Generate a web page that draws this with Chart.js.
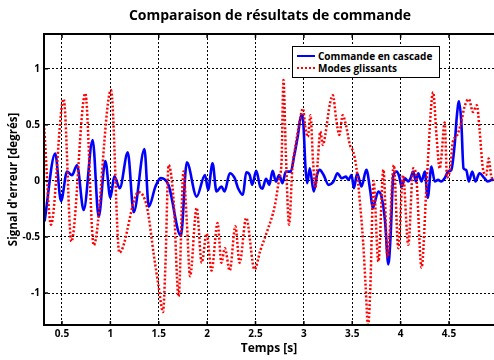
<!DOCTYPE html>
<html>
<head>
<meta charset="utf-8">
<script src="https://cdn.jsdelivr.net/npm/chart.js@4.4.0/dist/chart.umd.min.js"></script>
<style>
  body { margin: 0; background: #fff; }
  #wrap { position: relative; width: 494px; height: 360px; overflow: hidden; font-family: "Open Sans", sans-serif; color: #000; }
  #title { position: absolute; left: 44px; width: 452px; top: 5px; text-align: center; font-weight: bold; font-size: 14px; }
  #legend { position: absolute; left: 292px; top: 46px; width: 146px; height: 30px; border: 1.5px solid #000; background: #fff; font-size: 10px; font-weight: bold; }
  .row { position: absolute; left: 0; height: 12px; line-height: 12px; white-space: nowrap; }
  .sample { position: absolute; left: 4px; top: 5px; width: 18px; height: 0; }
  .label { position: absolute; left: 25px; top: 0; }
</style>
</head>
<body>
<div id="wrap">
  <canvas id="myChart" width="494" height="360"></canvas>
  <div id="title">Comparaison de résultats de commande</div>
  <div id="legend">
    <div class="row" style="top:3px"><span class="sample" style="border-top:2.5px solid #0000ff"></span><span class="label">Commande en cascade</span></div>
    <div class="row" style="top:15px"><span class="sample" style="border-top:2.5px dotted #ff0000"></span><span class="label">Modes glissants</span></div>
  </div>
</div>
<script>
// commande en cascade (blue)
var tBlue = [0.32, 0.43, 0.49, 0.552, 0.603, 0.655, 0.724, 0.817, 0.879, 0.948, 1.0, 1.041, 1.097, 1.18, 1.241, 1.352, 1.397, 1.466,
  1.52, 1.60, 1.729, 1.79, 1.892, 1.978, 2.01, 2.056, 2.097, 2.148, 2.18, 2.234, 2.285, 2.32, 2.37, 2.404, 2.44, 2.466, 2.507, 2.548,
  2.57, 2.609, 2.643, 2.677, 2.711, 2.745, 2.779, 2.813, 2.864, 2.898, 2.939, 2.973, 2.993, 3.017, 3.034, 3.061, 3.102, 3.136, 3.163,
  3.204, 3.255, 3.306, 3.347, 3.391, 3.435, 3.459, 3.493, 3.517, 3.551, 3.595, 3.646, 3.687, 3.712, 3.736, 3.77, 3.805, 3.839, 3.873,
  3.897, 3.925, 3.959, 3.986, 4.01, 4.045, 4.079, 4.103, 4.13, 4.158, 4.182, 4.216, 4.25, 4.28, 4.318, 4.353, 4.387, 4.42, 4.455, 4.49,
  4.524, 4.558, 4.582, 4.603, 4.627, 4.65, 4.678, 4.705, 4.74, 4.774, 4.815, 4.866, 4.9, 4.96];
var eBlue = [-0.36, 0.245, -0.18, 0.083, 0.05, 0.14, -0.26, 0.364, -0.32, 0.178, -0.15, 0.04, -0.065, 0.254, -0.28, 0.284, -0.23, -0.05,
  0.025, -0.035, -0.49, 0.166, -0.14, 0.053, -0.08, 0.157, -0.095, -0.05, -0.095, 0.068, 0.024, -0.065, -0.124, 0.077, 0.053, -0.035, 0.089, -0.05,
  -0.07, 0.018, -0.035, 0.089, -0.006, 0.053, -0.02, 0.083, 0.083, 0.216, 0.41, 0.59, 0.53, 0.112, -0.02, 0.112, -0.095, 0.053, 0.098,
  0.053, -0.035, -0.006, 0.068, 0.024, 0.038, 0.009, 0.053, -0.065, 0.068, -0.05, 0.098, -0.095, -0.243, -0.18, -0.095, -0.15, -0.36, -0.745,
  -0.48, 0.053, 0.083, 0.038, -0.05, 0.024, -0.006, 0.024, 0.083, -0.006, 0.068, -0.006, 0.083, -0.15, 0.127, -0.006, 0.009, -0.006, 0.024, 0.083,
  0.098, 0.32, 0.586, 0.71, 0.527, 0.112, 0.098, -0.006, 0.083, -0.006, 0.068, 0.024, -0.006, 0.018];

// modes glissants (red)
var tRed = [0.316, 0.386, 0.517, 0.597, 0.741, 0.828, 1.007, 1.093, 1.29, 1.38, 1.449, 1.5, 1.544, 1.568, 1.602, 1.654, 1.705, 1.756,
  1.79, 1.824, 1.892, 1.944, 1.995, 2.046, 2.108, 2.148, 2.183, 2.234, 2.292, 2.336, 2.404, 2.49, 2.55, 2.62, 2.70, 2.745, 2.769, 2.789,
  2.813, 2.847, 2.881, 2.915, 2.949, 2.99, 3.017, 3.041, 3.068, 3.095, 3.119, 3.143, 3.17, 3.197, 3.221, 3.272, 3.30, 3.333, 3.367, 3.401,
  3.435, 3.476, 3.51, 3.544, 3.578, 3.612, 3.639, 3.663, 3.687, 3.72, 3.77, 3.822, 3.865, 3.93, 3.976, 4.025, 4.079, 4.13, 4.16, 4.216,
  4.27, 4.336, 4.37, 4.404, 4.42, 4.455, 4.48, 4.51, 4.54, 4.58, 4.627, 4.66, 4.705, 4.747, 4.788, 4.815, 4.85, 4.884, 4.91, 4.935, 4.96];
var eRed = [0.47, -0.39, 0.73, -0.54, 0.78, -0.574, 0.81, -0.64, -0.10, -0.24, -0.66, -0.95, -1.17, -0.775, 0.142, -0.18, -1.03, 0.083,
  -0.36, -0.85, -0.24, -0.73, -0.47, -0.80, -0.376, -0.73, -0.60, -0.80, -0.405, -0.73, -0.33, -0.79, -0.62, -0.45, -0.22, 0.02, 0.17, 0.90,
  0.26, -0.39, 0.112, 0.32, 0.497, 0.645, 0.467, 0.393, 0.586, 0.17, -0.065, 0.17, 0.44, 0.32, 0.41, 0.70, 0.763, 0.556, 0.41, 0.586,
  0.497, 0.32, 0.26, 0.112, -0.18, -0.54, -0.95, -1.30, -0.95, 0.0, -0.72, 0.10, -0.68, 0.14, -0.60, 0.05, -0.57, 0.112, 0.05, -0.775,
  0.0, 0.79, 0.41, 0.11, 0.2, 0.52, 0.03, 0.1, 0.35, 0.40, 0.527, 0.66, 0.73, 0.615, 0.675, 0.467, 0.112, 0.053, 0.2, 0.05, 0.0];

var xTicks = [0.5, 1, 1.5, 2, 2.5, 3, 3.5, 4, 4.5];
var yTicks = [-1, -0.5, 0, 0.5, 1];

function pairs(t, v) {
  return t.map(function (x, i) { return { x: x, y: v[i] }; });
}

// axes box like matlab: left, top, bottom + small inner ticks
var frame = {
  id: "frame",
  afterDraw: function (chart) {
    var a = chart.chartArea, ctx = chart.ctx;
    var sx = chart.scales.x, sy = chart.scales.y;
    ctx.save();
    ctx.strokeStyle = "#000";
    ctx.lineWidth = 1.5;
    xTicks.forEach(function (v) {
      var px = sx.getPixelForValue(v);
      ctx.beginPath();
      ctx.moveTo(px, a.bottom); ctx.lineTo(px, a.bottom - 4);
      ctx.moveTo(px, a.top); ctx.lineTo(px, a.top + 4);
      ctx.stroke();
    });
    yTicks.forEach(function (v) {
      var py = sy.getPixelForValue(v);
      ctx.beginPath();
      ctx.moveTo(a.left, py); ctx.lineTo(a.left + 4, py);
      ctx.stroke();
    });
    ctx.lineWidth = 2;
    ctx.beginPath();
    ctx.moveTo(a.right + 2, a.top);
    ctx.lineTo(a.left, a.top);
    ctx.lineTo(a.left, a.bottom);
    ctx.lineTo(a.right + 2, a.bottom);
    ctx.stroke();
    ctx.restore();
  }
};

var ctx = document.getElementById("myChart").getContext("2d");
var myChart = new Chart(ctx, {
  type: "line",
  data: {
    datasets: [
      {
        label: "Commande en cascade",
        data: pairs(tBlue, eBlue),
        borderColor: "#0000ff",
        borderWidth: 2.6,
        pointRadius: 0,
        cubicInterpolationMode: "monotone",
        fill: false,
        order: 1
      },
      {
        label: "Modes glissants",
        data: pairs(tRed, eRed),
        borderColor: "#ff0000",
        borderWidth: 2.5,
        borderDash: [2, 2],
        pointRadius: 0,
        cubicInterpolationMode: "monotone",
        fill: false,
        order: 0
      }
    ]
  },
  options: {
    responsive: false,
    animation: false,
    events: [],
    layout: { padding: { top: 34, left: 0, right: 0, bottom: 0 } },
    plugins: { legend: { display: false }, title: { display: false }, tooltip: { enabled: false } },
    scales: {
      x: {
        type: "linear",
        min: 0.314,
        max: 4.965,
        afterBuildTicks: function (s) { s.ticks = xTicks.map(function (v) { return { value: v }; }); },
        afterFit: function (s) { s.height = 35; },
        ticks: { color: "#000", font: { family: "Open Sans", size: 10, weight: "bold" }, padding: 3, maxRotation: 0,
          callback: function (v) { return String(v); } },
        grid: { color: "#000", lineWidth: 1, drawTicks: false },
        border: { display: false, dash: [2, 2] },
        title: { display: true, text: "Temps [s]", color: "#000", font: { family: "Open Sans", size: 12, weight: "bold" }, padding: { top: 0, bottom: 4 } }
      },
      y: {
        min: -1.285,
        max: 1.31,
        afterBuildTicks: function (s) { s.ticks = yTicks.map(function (v) { return { value: v }; }); },
        afterFit: function (s) { s.width = 44; },
        ticks: { color: "#000", font: { family: "Open Sans", size: 10, weight: "bold" }, padding: 4,
          callback: function (v) { return String(v); } },
        grid: { color: "#000", lineWidth: 1, drawTicks: false },
        border: { display: false, dash: [2, 2] },
        title: { display: true, text: "Signal d'erreur [degrés]", color: "#000", font: { family: "Open Sans", size: 11.5, weight: "bold" }, padding: { top: 7, bottom: 0 } }
      }
    }
  },
  plugins: [frame]
});
</script>
</body>
</html>
